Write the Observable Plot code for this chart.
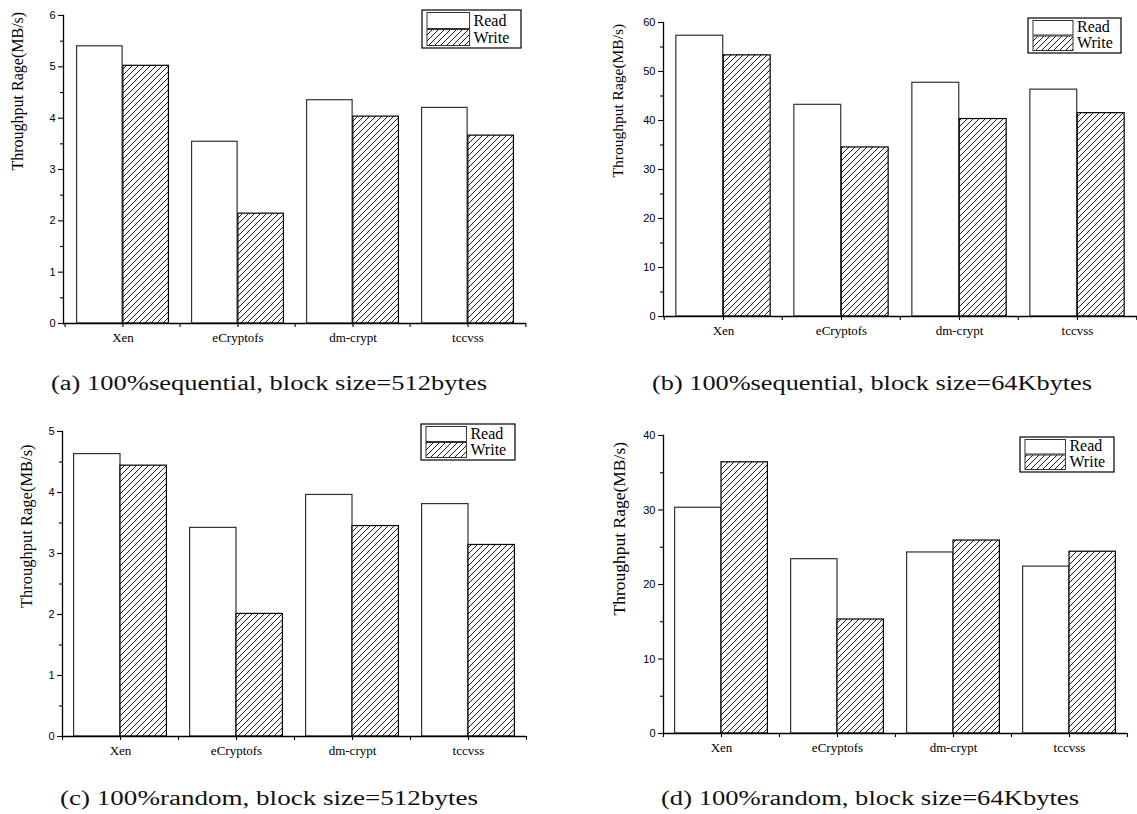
<!DOCTYPE html>
<html>
<head>
<meta charset="utf-8">
<script src="https://cdn.jsdelivr.net/npm/d3@7"></script>
<script src="https://cdn.jsdelivr.net/npm/@observablehq/plot@0.6"></script>
<style>
  html, body { margin: 0; padding: 0; background: #fff; }
  #page { position: relative; width: 1137px; height: 814px; overflow: hidden; background: #fff; }
  .panel { position: absolute; }
  #overlay { position: absolute; left: 0; top: 0; }
</style>
</head>
<body>
<svg width="0" height="0" style="position:absolute">
  <defs>
    <pattern id="hatch" patternUnits="userSpaceOnUse" width="6" height="6">
      <rect width="6" height="6" fill="#fff"/>
      <path d="M-1,1 L1,-1 M0,6 L6,0 M5,7 L7,5" stroke="#000" stroke-width="0.9"/>
    </pattern>
  </defs>
</svg>
<div id="page"></div>
<script>
// ---------- data ----------
const categories = ["Xen", "eCryptofs", "dm-crypt", "tccvss"];
const seriesNames = ["Read", "Write"];

// (a) 100% sequential, 512 bytes
const readA  = [5.40, 3.54, 4.35, 4.20];
const writeA = [5.02, 2.14, 4.03, 3.66];
const yTicksA = [0, 1, 2, 3, 4, 5, 6];
const yMinorA = [0.5, 1.5, 2.5, 3.5, 4.5, 5.5];

// (b) 100% sequential, 64 Kbytes
const readB  = [57.3, 43.2, 47.7, 46.3];
const writeB = [53.3, 34.5, 40.3, 41.5];
const yTicksB = [0, 10, 20, 30, 40, 50, 60];
const yMinorB = [5, 15, 25, 35, 45, 55];

// (c) 100% random, 512 bytes
const readC  = [4.63, 3.42, 3.96, 3.81];
const writeC = [4.44, 2.01, 3.45, 3.14];
const yTicksC = [0, 1, 2, 3, 4, 5];
const yMinorC = [0.5, 1.5, 2.5, 3.5, 4.5];

// (d) 100% random, 64 Kbytes
const readD  = [30.3, 23.4, 24.3, 22.4];
const writeD = [36.4, 15.3, 25.9, 24.4];
const yTicksD = [0, 10, 20, 30, 40];
const yMinorD = [5, 15, 25, 35];

const yTitle = "Throughput Rage(MB/s)";
const captions = [
  "(a) 100%sequential, block size=512bytes",
  "(b) 100%sequential, block size=64Kbytes",
  "(c) 100%random, block size=512bytes",
  "(d) 100%random, block size=64Kbytes"
];

// ---------- layout ----------
const panels = [
  {read: readA, write: writeA, ticks: yTicksA, minor: yMinorA, left: 0,   top: 0,   width: 540, height: 350, ml: 63, mr: 14, mt: 15, mb: 27,
   titleDx: -46, titleDy: 1, titleSize: 16,
   legend: {x: 422, y: 10, w: 99, h: 38}, cap: {cx: 269, cy: 383, w: 436}},
  {read: readB, write: writeB, ticks: yTicksB, minor: yMinorB, left: 570, top: 0,   width: 567, height: 350, ml: 93, mr: 0,  mt: 22, mb: 34,
   titleDx: -45, titleDy: 8, titleSize: 15.5,
   legend: {x: 1028, y: 18, w: 93, h: 35}, cap: {cx: 872, cy: 383, w: 440}},
  {read: readC, write: writeC, ticks: yTicksC, minor: yMinorC, left: 0,   top: 410, width: 540, height: 350, ml: 62, mr: 14, mt: 21, mb: 24,
   titleDx: -36, titleDy: 24, titleSize: 16.5,
   legend: {x: 421, y: 424, w: 94, h: 36}, cap: {cx: 269, cy: 798, w: 418}},
  {read: readD, write: writeD, ticks: yTicksD, minor: yMinorD, left: 570, top: 410, width: 567, height: 350, ml: 93, mr: 10, mt: 25, mb: 27,
   titleDx: -44, titleDy: 31, titleSize: 17.5,
   legend: {x: 1020, y: 437, w: 94, h: 35}, cap: {cx: 870, cy: 798, w: 418}}
];

const page = document.getElementById("page");
const serif = "Liberation Serif, Times New Roman, serif";

panels.forEach(p => {
  const bw = (p.width - p.ml - p.mr) / categories.length;
  const pad = bw * 0.1;
  const readRows = categories.map((c, i) => ({cat: c, series: seriesNames[0], value: p.read[i]}));
  const writeRows = categories.map((c, i) => ({cat: c, series: seriesNames[1], value: p.write[i]}));
  const yMax = p.ticks[p.ticks.length - 1];

  const chart = Plot.plot({
    width: p.width,
    height: p.height,
    marginLeft: p.ml, marginRight: p.mr, marginTop: p.mt, marginBottom: p.mb,
    style: {background: "transparent", overflow: "visible"},
    x: {type: "band", domain: categories, padding: 0, axis: null, label: null},
    y: {domain: [0, yMax], axis: null, label: null},
    marks: [
      Plot.barY(readRows, {x: "cat", y: "value", fill: "white", stroke: "#333", strokeWidth: 1.2,
        insetLeft: pad, insetRight: bw / 2}),
      Plot.barY(writeRows, {x: "cat", y: "value", fill: "url(#hatch)", stroke: "#000", strokeWidth: 1.2,
        insetLeft: bw / 2, insetRight: pad}),
      Plot.ruleY([0], {stroke: "#000", strokeWidth: 1.3}),
      Plot.frame({anchor: "left", stroke: "#000", strokeWidth: 1.3}),
      Plot.axisY({ticks: p.ticks, tickSize: 5, tickPadding: 3, stroke: "#000", strokeWidth: 1.1, label: null,
        fontFamily: "Liberation Sans, Arial, sans-serif", fontSize: 11, fill: "#000", tickFormat: d => String(d)}),
      Plot.axisY({ticks: p.minor, tickSize: 3, stroke: "#000", strokeWidth: 1.1, label: null, tickFormat: () => ""}),
      Plot.axisX({ticks: categories, tickSize: 4, tickPadding: 5, stroke: "#000", strokeWidth: 1.1, label: null,
        fontFamily: serif, fontSize: 13, fill: "#000"}),
      Plot.axisX({ticks: categories, tickSize: 4, dx: -bw / 2, stroke: "#000", strokeWidth: 1.1, label: null, tickFormat: () => ""}),
      Plot.axisX({ticks: [categories[categories.length - 1]], tickSize: 4, dx: bw / 2, stroke: "#000", strokeWidth: 1.1, label: null, tickFormat: () => ""}),
      Plot.text([yTitle], {frameAnchor: "left", rotate: -90, dx: p.titleDx, dy: p.titleDy, text: d => d,
        fontFamily: serif, fontSize: p.titleSize, fill: "#000"})
    ]
  });
  chart.classList.add("panel");
  chart.style.left = p.left + "px";
  chart.style.top = p.top + "px";
  page.appendChild(chart);
});

// ---------- legends and captions (overlay) ----------
const overlay = d3.select(page).append("svg")
  .attr("id", "overlay")
  .attr("width", 1137).attr("height", 814);

panels.forEach((p, k) => {
  const L = p.legend;
  const g = overlay.append("g");
  g.append("rect").attr("x", L.x).attr("y", L.y).attr("width", L.w).attr("height", L.h)
    .attr("fill", "#fff").attr("stroke", "#000").attr("stroke-width", 1.2);
  const sw = L.w * 0.43, sx = L.x + 5;
  const rowH = (L.h - 5) / 2;
  seriesNames.forEach((name, i) => {
    const ry = L.y + 2.5 + i * (rowH + 0.5);
    g.append("rect").attr("x", sx).attr("y", ry).attr("width", sw).attr("height", rowH - 0.5)
      .attr("fill", i === 0 ? "#fff" : "url(#hatch)").attr("stroke", "#333").attr("stroke-width", 1);
    g.append("text").attr("x", sx + sw + 4).attr("y", ry + rowH - 3.5)
      .attr("font-family", serif).attr("font-size", 16)
      .attr("fill", "#000").text(name);
  });

  overlay.append("text")
    .attr("x", p.cap.cx).attr("y", p.cap.cy)
    .attr("text-anchor", "middle").attr("dominant-baseline", "central")
    .attr("font-family", serif).attr("font-size", 20)
    .attr("textLength", p.cap.w).attr("lengthAdjust", "spacingAndGlyphs")
    .attr("fill", "#111").text(captions[k]);
});
</script>
</body>
</html>
